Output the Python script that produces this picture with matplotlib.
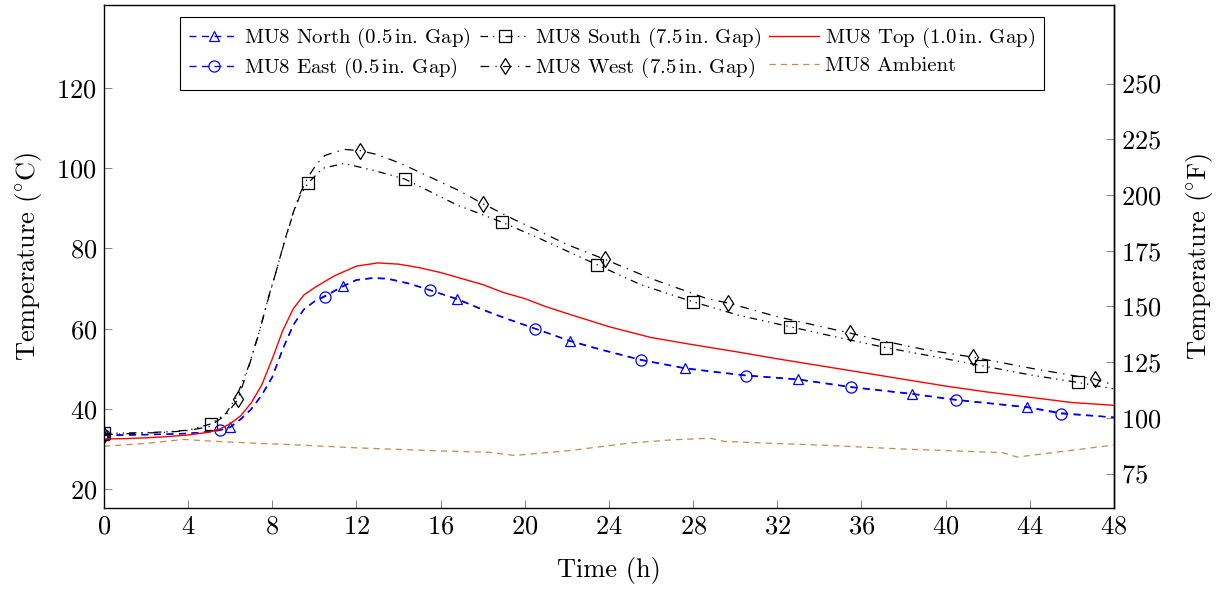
import matplotlib
matplotlib.use("Agg")
import matplotlib.pyplot as plt
import numpy as np

plt.rcParams['font.family'] = 'serif'
plt.rcParams['font.serif'] = ['cmr10']
plt.rcParams['mathtext.fontset'] = 'cm'
plt.rcParams['axes.formatter.use_mathtext'] = True

# ---------------- data ----------------
# Blue series (North / East) share one time grid
time_blue = [0, 1, 2, 3, 4, 5, 5.5, 6, 6.5, 7, 7.5, 8, 8.5, 9, 9.5, 10, 10.5,
             11.35, 12, 12.8, 13.5, 14.5, 15.5, 16.8, 18, 19, 20.5, 22.15, 23.5,
             25.5, 27.6, 29, 30.5, 33.0, 35.5, 38.4, 40.5, 43.85, 45.5, 48]
north = [33.5, 33.5, 33.6, 33.7, 33.9, 34.3, 34.7, 35.5, 37.5, 40.0, 43.5, 48.0,
         55.0, 61.0, 64.8, 66.8, 68.2, 70.6, 72.2, 72.7, 72.5, 71.3, 69.6, 67.4,
         64.8, 62.8, 60.0, 57.0, 55.0, 52.3, 50.2, 49.3, 48.4, 47.4, 45.5, 43.8,
         42.3, 40.5, 39.0, 37.9]
east = [33.4, 33.5, 33.6, 33.7, 33.9, 34.3, 34.7, 35.4, 37.4, 39.9, 43.4, 47.9,
        54.9, 60.9, 64.8, 66.8, 68.0, 70.5, 72.1, 72.6, 72.4, 71.2, 69.6, 67.3,
        64.7, 62.7, 60.0, 56.9, 54.9, 52.2, 50.1, 49.2, 48.3, 47.3, 45.4, 43.7,
        42.2, 40.4, 38.8, 37.9]
north_marks = [0, 6, 11.35, 16.8, 22.15, 27.6, 33.0, 38.4, 43.85]
east_marks = [0, 5.5, 10.5, 15.5, 20.5, 25.5, 30.5, 35.5, 40.5, 45.5]

time_top = [0, 1, 2, 3, 4, 5, 5.5, 6, 6.5, 7, 7.5, 8, 8.5, 9, 9.5, 10, 10.5, 11,
            12, 13, 14, 15, 16, 17, 18, 19, 20, 21, 22, 24, 26, 28, 30, 32, 34,
            36, 38, 40, 42, 44, 46, 48]
top = [32.5, 32.6, 32.8, 33.1, 33.5, 34.2, 35.0, 36.3, 38.3, 41.5, 46.0, 52.5,
       59.6, 65.0, 68.4, 70.2, 71.8, 73.3, 75.6, 76.4, 76.1, 75.2, 74.0, 72.5,
       71.0, 69.0, 67.5, 65.5, 63.8, 60.5, 57.8, 56.0, 54.3, 52.5, 50.8, 49.1,
       47.4, 45.7, 44.2, 42.9, 41.6, 40.9]

time_south = [0, 1, 2, 3, 4, 5.1, 5.8, 6.3, 6.9, 7.4, 7.8, 8.2, 8.6, 9.0, 9.3,
              9.7, 10.4, 11.4, 12.8, 14.3, 16.8, 18.9, 20.7, 23.45, 25.5, 28.0,
              30.2, 32.6, 35, 37.15, 39.5, 41.7, 44, 46.3, 48]
south = [33.9, 34.0, 34.1, 34.3, 34.7, 36.3, 38.9, 43.0, 51.0, 59.6, 67.5, 74.6,
         82.0, 88.8, 93.0, 96.3, 100.0, 101.2, 99.5, 97.3, 90.8, 86.6, 82.5,
         75.9, 71.0, 66.7, 63.3, 60.5, 57.7, 55.3, 53.0, 50.8, 48.5, 46.6, 45.0]
south_marks = [0, 5.1, 9.7, 14.3, 18.9, 23.45, 28.0, 32.6, 37.15, 41.7, 46.3]

time_west = [0, 1, 2, 3, 4, 5, 5.8, 6.37, 6.9, 7.4, 7.8, 8.2, 8.6, 9.0, 9.3,
             9.7, 10.1, 10.5, 11.4, 12.17, 13, 14.1, 15.5, 16.8, 18.0, 19.5,
             20.7, 22, 23.8, 26, 28.6, 29.66, 32, 35.46, 37, 39, 41.3, 44.2,
             47.1, 48]
west = [33.6, 33.8, 34.0, 34.2, 34.6, 35.6, 38.5, 42.4, 50.8, 59.5, 67.3, 74.6,
        82.2, 89.0, 93.5, 97.8, 101.0, 103.2, 104.7, 104.4, 103.4, 101.2, 97.8,
        94.6, 91.2, 87.2, 84.3, 81.0, 77.3, 72.5, 67.6, 66.4, 63.0, 58.9, 57.0,
        54.8, 52.9, 50.0, 47.4, 46.0]
west_marks = [0, 6.37, 12.17, 18.0, 23.8, 29.66, 35.46, 41.3, 47.1]

time_amb = [0, 2, 3.8, 5, 7, 9.3, 12, 15.6, 18.3, 19.5, 22.1, 25, 27, 28.8,
            29.5, 31.3, 34, 38, 42.7, 43.4, 48]
ambient = [30.7, 31.4, 32.4, 32.0, 31.5, 31.0, 30.3, 29.6, 29.2, 28.4, 29.6,
           31.5, 32.3, 32.7, 31.9, 31.5, 31.0, 30.0, 29.1, 28.0, 31.0]

labels = ['MU8 North (0.5$\\,$in. Gap)', 'MU8 East (0.5$\\,$in. Gap)',
          'MU8 South (7.5$\\,$in. Gap)', 'MU8 West (7.5$\\,$in. Gap)',
          'MU8 Top (1.0$\\,$in. Gap)', 'MU8 Ambient']

x_ticks = list(range(0, 49, 4))
y_ticks_c = [20, 40, 60, 80, 100, 120]
y_ticks_f = [75, 100, 125, 150, 175, 200, 225, 250]


def idx(times, marks):
    return [times.index(m) for m in marks]


# ---------------- plot ----------------
fig = plt.figure(figsize=(12.2, 5.89), dpi=100)
ax = fig.add_axes([0.0852, 0.1375, 0.8279, 0.854])

blue = (0, 0, 1)
h_north, = ax.plot(time_blue, north, color=blue, lw=1.0, ls=(0, (5, 4)),
                   marker='^', ms=7, mfc='none', mew=0.9,
                   markevery=idx(time_blue, north_marks), label=labels[0])
h_east, = ax.plot(time_blue, east, color=blue, lw=1.0, ls=(0, (5, 4)),
                  marker='o', ms=8, mfc='none', mew=0.9,
                  markevery=idx(time_blue, east_marks), label=labels[1])
h_south, = ax.plot(time_south, south, color='black', lw=0.9,
                   ls=(0, (6, 4, 1, 4, 1, 4)), marker='s', ms=8.5, mfc='none',
                   mew=0.9, markevery=idx(time_south, south_marks), label=labels[2])
h_west, = ax.plot(time_west, west, color='black', lw=0.9, ls=(0, (7, 5, 1, 5)),
                  marker='d', ms=8, mfc='none', mew=0.9,
                  markevery=idx(time_west, west_marks), label=labels[3])
h_top, = ax.plot(time_top, top, color='red', lw=1.0, ls='-', label=labels[4])
h_amb, = ax.plot(time_amb, ambient, color='#c58a4f', lw=0.9, ls=(0, (5, 4)),
                 label=labels[5])

ax.set_xlim(0, 48)
ax.set_ylim(15.3, 140.7)
ax.set_xticks(x_ticks)
ax.set_yticks(y_ticks_c)
ax.tick_params(axis='both', direction='in', length=6, width=0.6, color='0.45',
               labelsize=19, pad=5)
ax.tick_params(axis='y', right=False)
ax.tick_params(axis='x', top=False)
for s in ax.spines.values():
    s.set_linewidth(1.0)

ax.set_xlabel('Time (h)', fontsize=19, labelpad=13)
ax.set_ylabel('Temperature $(^{\\circ}\\mathrm{C})$', fontsize=19, labelpad=9)

sec = ax.secondary_yaxis('right', functions=(lambda c: c * 9 / 5 + 32,
                                             lambda f: (f - 32) * 5 / 9))
sec.set_yticks(y_ticks_f)
sec.tick_params(direction='in', length=6, width=0.6, color='0.45',
                labelsize=19, pad=5)
sec.spines['right'].set_linewidth(1.0)
sec.set_ylabel('Temperature $(^{\\circ}\\mathrm{F})$', fontsize=19, labelpad=16)

handles = [h_north, h_east, h_south, h_west, h_top, h_amb]
leg = ax.legend(handles=handles, labels=labels, ncol=3, loc='upper center',
                bbox_to_anchor=(0.503, 0.977), fontsize=15, frameon=True,
                fancybox=False, edgecolor='black', framealpha=1,
                handlelength=2.4, handletextpad=0.25, columnspacing=0.4,
                borderpad=0.45, labelspacing=0.3, borderaxespad=0)
leg.get_frame().set_linewidth(0.8)

fig.savefig('out.png', dpi=100)
